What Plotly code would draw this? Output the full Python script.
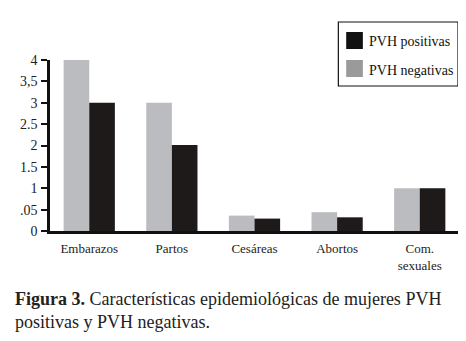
import plotly.graph_objects as go

categories = ["Embarazos", "Partos", "Cesáreas", "Abortos", "Com.<br>sexuales"]
pvh_negativas = [4.0, 3.0, 0.36, 0.44, 1.0]
pvh_positivas = [3.0, 2.01, 0.29, 0.32, 1.0]
ytick_vals = [0, 0.5, 1, 1.5, 2, 2.5, 3, 3.5, 4]
ytick_text = ["0", ".05", "1", "1.5", "2", "2.5", "3", "3,5", "4"]

FONT = "Liberation Serif"
OFF = 8  # page body margin
W, H = 466, 341
# plot area in page pixels: x 42..458, y 60..231
L, T = 42 - OFF, 60 - OFF
R = W - (458 - OFF)
B = H - (231 - OFF)
pw, ph = W - L - R, H - T - B

def px(x):
    return (x - OFF - L) / pw

def py(y):
    return (H - B - (y - OFF)) / ph

fig = go.Figure()
fig.add_trace(go.Bar(x=categories, y=pvh_negativas, name="PVH negativas",
                     marker=dict(color="#bbbcbf", line=dict(width=0)), showlegend=False))
fig.add_trace(go.Bar(x=categories, y=pvh_positivas, name="PVH positivas",
                     marker=dict(color="#1e1a1a", line=dict(width=0)), showlegend=False))

shapes = [
    dict(type="rect", xref="paper", yref="paper", x0=px(336), x1=px(458), y0=py(22), y1=py(86),
         line=dict(color="#111", width=1.2), fillcolor="white"),
    dict(type="rect", xref="paper", yref="paper", x0=px(344), x1=px(361), y0=py(32), y1=py(49),
         line=dict(width=0), fillcolor="#111"),
    dict(type="rect", xref="paper", yref="paper", x0=px(344), x1=px(361), y0=py(60), y1=py(77),
         line=dict(width=0), fillcolor="#9a9a9a"),
]
annotations = [
    dict(text="PVH positivas", xref="paper", yref="paper", x=px(365), y=py(42), xanchor="left",
         yanchor="middle", showarrow=False, font=dict(family=FONT, size=14, color="#111")),
    dict(text="PVH negativas", xref="paper", yref="paper", x=px(365), y=py(70), xanchor="left",
         yanchor="middle", showarrow=False, font=dict(family=FONT, size=14, color="#111")),
    dict(text="<b>Figura 3.</b> Características epidemiológicas de mujeres PVH<br>positivas y PVH negativas.",
         xref="paper", yref="paper", x=px(4), y=py(287), xanchor="left", yanchor="top", align="left",
         showarrow=False, font=dict(family=FONT, size=18, color="#222")),
]

fig.update_layout(
    width=W, height=H,
    margin=dict(l=L, r=R, t=T, b=B),
    paper_bgcolor="white", plot_bgcolor="white",
    barmode="group", bargap=0.38, bargroupgap=0,
    font=dict(family=FONT, size=13, color="#222"),
    shapes=shapes, annotations=annotations,
    xaxis=dict(showline=True, linecolor="#111", linewidth=2.5, ticks="", showgrid=False,
               tickfont=dict(family=FONT, size=13), range=[-0.475, 4.463],
               ticklabelstandoff=4),
    yaxis=dict(showline=True, linecolor="#111", linewidth=2.5, ticks="outside", ticklen=6,
               tickwidth=2, tickcolor="#111", showgrid=False, zeroline=False,
               range=[0, 4], tickvals=ytick_vals, ticktext=ytick_text,
               tickfont=dict(family=FONT, size=14), ticklabelstandoff=1),
)

fig.write_html("out.html")
